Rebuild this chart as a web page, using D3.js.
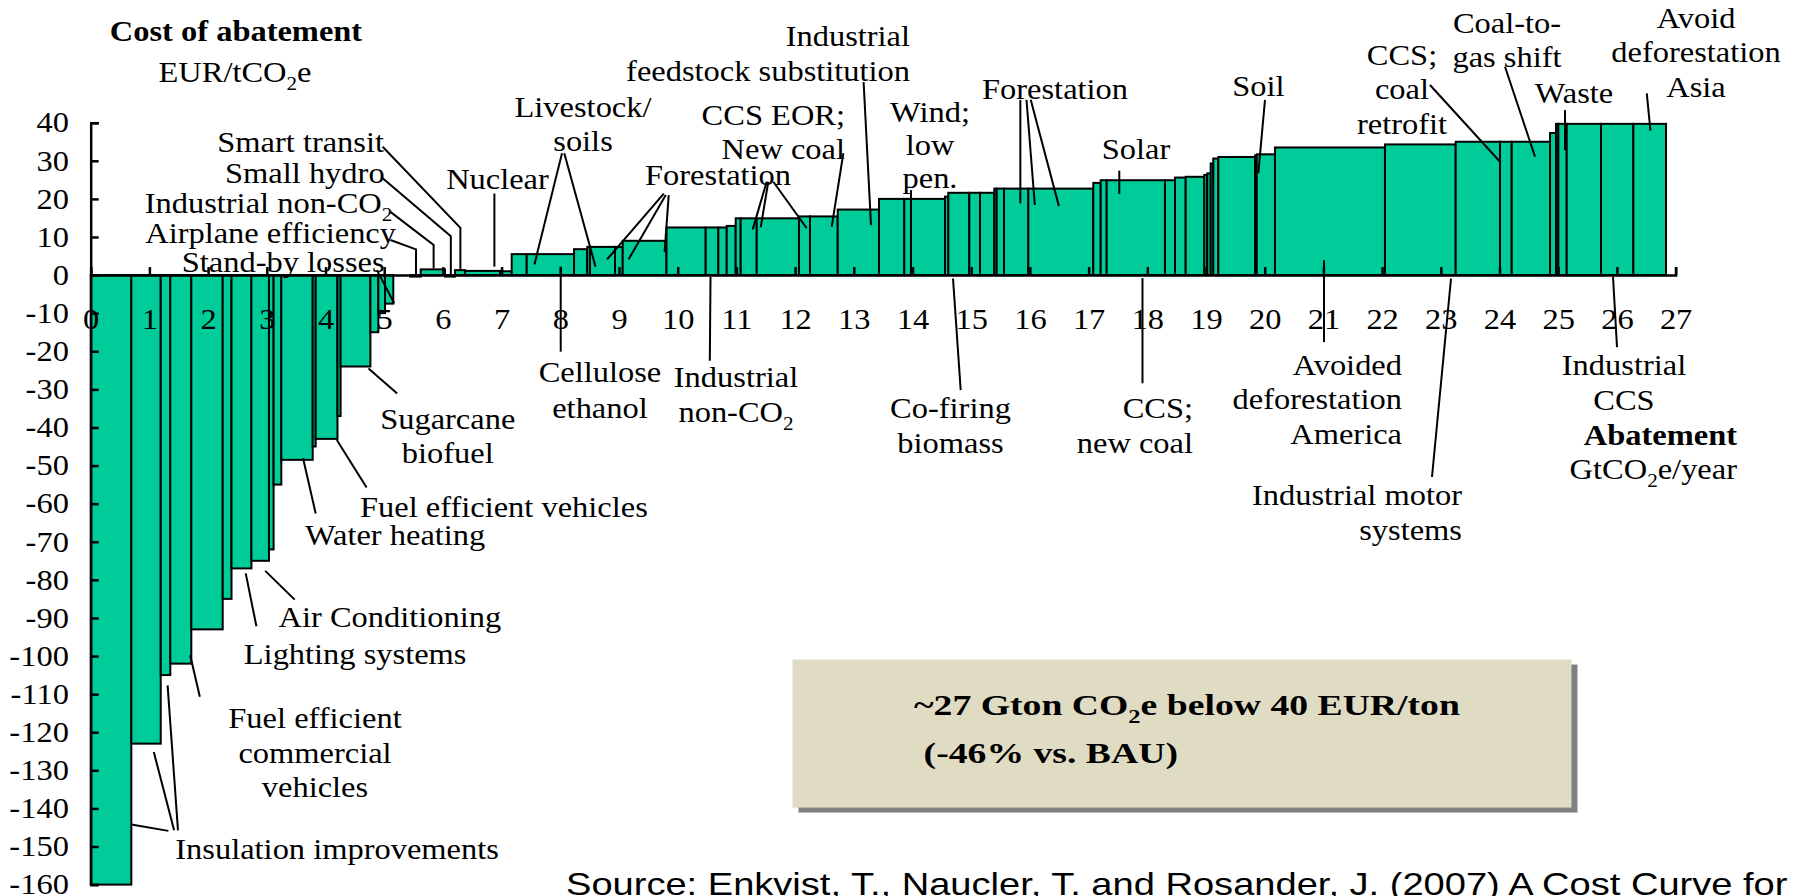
<!DOCTYPE html>
<html>
<head>
<meta charset="utf-8">
<style>
  body { margin: 0; background: #fff; }
  svg text { font-family: "Liberation Serif", "Times New Roman", serif; fill: #000; }
  .bar { fill: #00cc99; stroke: #000; stroke-width: 2px; }
  .lead { fill: none; stroke: #000; stroke-width: 2px; }
  .axis path, .axis line { stroke: #000; stroke-width: 2.5px; }
  .axis text { font-size: 29px; }
  .source { font-family: "Liberation Sans", Arial, sans-serif; }
</style>
</head>
<body>
<svg width="1796" height="896"></svg>
<script src="https://cdn.jsdelivr.net/npm/d3@7"></script>
<script>

// abatement of each lever, GtCO2e/year, in curve order (left to right)
var abatement = [0.692, 0.501, 0.163, 0.358, 0.535, 0.150, 0.339, 0.299, 0.079, 0.131,
                 0.535, 0.051, 0.371, 0.053, 0.508, 0.135, 0.114, 0.141, 0.285, 0.182,
                 0.414, 0.170, 0.170, 0.597, 0.199, 0.256, 0.806, 0.226, 0.046, 0.426,
                 0.131, 0.746, 0.668, 0.215, 0.143, 0.153, 0.085, 0.273, 0.720, 0.188,
                 0.472, 0.703, 0.431, 0.114, 0.580, 0.056, 0.358, 0.182, 0.244, 0.040,
                 0.125, 0.414, 1.107, 0.126, 0.102, 0.993, 0.171, 0.182, 0.317, 0.051,
                 0.058, 0.044, 0.086, 0.625, 0.029, 0.311, 1.874, 1.205, 0.755, 0.199,
                 0.653, 0.102, 0.039, 0.143, 0.584, 0.551, 0.557];

// cost of abatement of each lever, EUR/tCO2e
var cost = [-160, -123, -105, -102, -93, -85, -77, -75, -72, -55,
            -48.5, -45, -43, -37, -24, -15, -10, -7.5, 0, -0.4,
            1.5, -0.4, 1.3, 1.1, 1.0, 5.5, 5.5, 6.8, 7.4, 7.4,
            7.4, 9.0, 12.5, 12.5, 12.5, 12.9, 14.9, 14.9, 14.9, 15.4,
            15.4, 17.2, 20.0, 20.0, 20.0, 20.6, 21.6, 21.6, 21.6, 22.7,
            22.7, 22.7, 22.7, 24.2, 24.9, 24.9, 24.9, 25.6, 25.8, 26.3,
            26.7, 29.3, 30.6, 31.0, 31.4, 31.7, 33.5, 34.3, 35.0, 35.0,
            35.0, 37.3, 39.7, 39.7, 39.7, 39.7, 39.7];

var xTicks = d3.range(0, 28);
var yTicks = d3.range(-160, 41, 10);

// lever names, placed in data units (x: GtCO2e, y: EUR), with leader lines
var notes = [
  {text: ["Cost of abatement"], x: 2.475, y: 61.5, bold: true},
  {text: ["EUR/tCO₂e"], x: 2.458, y: 50.8},
  {text: ["Smart transit"], x: 4.997, y: 32.4, anchor: "end", lead: [[[4.974, 33.7], [6.298, 12.4], [6.298, 1.3]]]},
  {text: ["Small hydro"], x: 5.007, y: 24.2, anchor: "end", lead: [[[4.974, 25.4], [6.135, 10.2], [6.135, 0]]]},
  {text: ["Industrial non-CO₂"], x: 5.138, y: 16.4, anchor: "end", lead: [[[5.106, 16.6], [5.842, 7.9], [5.842, 1.8]]]},
  {text: ["Airplane efficiency"], x: 5.201, y: 8.5, anchor: "end", lead: [[[5.106, 9.2], [5.542, 6.75], [5.542, 0]]]},
  {text: ["Stand-by losses"], x: 5.007, y: 0.9, anchor: "end", lead: [[[4.877, 1.3], [5.170, -7.4]]]},
  {text: ["Nuclear"], x: 6.930, y: 22.5, lead: [[[6.877, 21.4], [6.877, 2.2]]]},
  {text: ["Livestock/", "soils"], x: 8.387, y: 41.6,
   lead: [[[8.029, 32.0], [7.559, 2.8]], [[8.068, 32.0], [8.600, 2.2]]]},
  {text: ["Forestation"], x: 10.687, y: 23.6,
   lead: [[[9.763, 21.4], [8.796, 4.1]], [[9.797, 21.0], [9.162, 4.1]], [[9.847, 21.0], [9.777, 6.1]],
          [[11.516, 24.5], [11.278, 12.0]], [[11.543, 24.5], [11.414, 12.5]], [[11.629, 24.5], [12.198, 12.3]]]},
  {text: ["CCS EOR;", "New coal"], x: 12.85, y: 39.4, anchor: "end", lead: [[[12.822, 32.0], [12.624, 12.7]]]},
  {text: ["Industrial", "feedstock substitution"], x: 13.958, y: 60.1, anchor: "end", lead: [[[13.167, 50.7], [13.293, 13.1]]]},
  {text: ["Wind;", "low", "pen."], x: 14.298, y: 40.3, lh: 33, lead: [[[13.974, 22.3], [13.974, 1.8]]]},
  {text: ["Forestation"], x: 16.428, y: 46.1,
   lead: [[[15.837, 46.0], [15.837, 18.8]], [[15.942, 46.0], [16.084, 18.4]], [[16.014, 46.0], [16.494, 18.1]]]},
  {text: ["Solar"], x: 17.808, y: 30.6, lead: [[[17.523, 27.4], [17.523, 21.3]]]},
  {text: ["Soil"], x: 19.894, y: 47.0, lead: [[[20.005, 46.0], [19.891, 26.7]]]},
  {text: ["CCS;", "coal", "retrofit"], x: 22.339, y: 55.15, lead: [[[22.816, 49.9], [24.009, 29.75]]]},
  {text: ["Coal-to-", "gas shift"], x: 24.128, y: 63.5, lh: 33.4, lead: [[[24.094, 54.7], [24.605, 31.1]]]},
  {text: ["Waste"], x: 25.269, y: 45.1, lead: [[[25.116, 43.3], [25.116, 32.8]]]},
  {text: ["Avoid", "deforestation", "Asia"], x: 27.348, y: 64.8, lh: 34.2, lead: [[[26.509, 47.7], [26.571, 37.9]]]},
  {text: ["Cellulose", "ethanol"], x: 8.676, y: -28.0, lh: 36.6, lead: [[[8.007, 2.2], [8.007, -20.1]]]},
  {text: ["Industrial", "non-CO₂"], x: 10.993, y: -29.5, lead: [[[10.559, -0.5], [10.547, -22.5]]]},
  {text: ["Co-firing", "biomass"], x: 14.647, y: -37.6, lead: [[[14.690, -0.9], [14.821, -30.2]]]},
  {text: ["CCS;", "new coal"], x: 18.779, y: -37.6, anchor: "end", lead: [[[17.918, -0.8], [17.918, -28.4]]]},
  {text: ["Avoided", "deforestation", "America"], x: 22.339, y: -26.3, anchor: "end", lh: 34.2, lead: [[[21.010, 3.9], [21.010, -17.6]]]},
  {text: ["Industrial motor", "systems"], x: 23.361, y: -60.4, anchor: "end", lead: [[[23.174, -0.9], [22.850, -53.0]]]},
  {text: ["Industrial", "CCS"], x: 26.121, y: -26.3, lead: [[[25.934, -0.5], [26.002, -18.9]]]},
  {text: ["Abatement"], x: 28.046, y: -44.6, anchor: "end", bold: true},
  {text: ["GtCO₂e/year"], x: 28.046, y: -53.4, anchor: "end"},
  {text: ["Sugarcane", "biofuel"], x: 6.082, y: -40.5, lh: 33.4, lead: [[[4.733, -24.5], [5.221, -31.1]]]},
  {text: ["Fuel efficient vehicles"], x: 4.588, y: -63.5, anchor: "start", lead: [[[4.193, -43.3], [4.700, -55.75]]]},
  {text: ["Water heating"], x: 3.651, y: -70.9, anchor: "start", lead: [[[3.618, -48.1], [3.833, -62.6]]]},
  {text: ["Air Conditioning"], x: 3.201, y: -92.4, anchor: "start", lead: [[[2.973, -77.65], [3.475, -85.2]]]},
  {text: ["Lighting systems"], x: 2.608, y: -102.0, anchor: "start", lead: [[[2.641, -78.3], [2.823, -92.2]]]},
  {text: ["Fuel efficient", "commercial", "vehicles"], x: 3.821, y: -119.0, lh: 34.2, lead: [[[1.695, -99.8], [1.859, -110.7]]]},
  {text: ["Insulation improvements"], x: 1.441, y: -153.2, anchor: "start",
   lead: [[[1.324, -145.9], [0.692, -144.2]], [[1.421, -145.75], [1.075, -125.2]], [[1.487, -145.75], [1.310, -107.7]]]}
];

var boxText = ["~27 Gton CO₂e below 40 EUR/ton", "(-46% vs. BAU)"];
var sourceText = "Source: Enkvist, T., Naucler, T. and Rosander, J. (2007) A Cost Curve for";

var svg = d3.select("svg");
var x = d3.scaleLinear().domain([0, 27]).range([90.7, 1675.6]),
    y = d3.scaleLinear().domain([-160, 40]).range([884.6, 122.7]);

var FS = 29, SX = 1.12, LH = 34.5;

// writes a string into a text/tspan, turning "₂" into a lowered small 2
function withSub(sel, str, size) {
  var parts = str.split("₂");
  parts.forEach(function(p, i) {
    if (p) sel.append("tspan").attr("dy", i > 0 ? -0.28 * size : null).text(p);
    if (i < parts.length - 1) {
      sel.append("tspan").attr("font-size", size * 0.65).attr("dy", 0.28 * size).text("2");
    }
  });
}

// bars
var start = 0;
var levers = abatement.map(function(w, i) {
  var d = {x0: start, x1: start + w, cost: cost[i]};
  start += w;
  return d;
});

svg.append("g").selectAll("rect")
  .data(levers)
  .enter().append("rect")
    .attr("class", "bar")
    .attr("x", function(d) { return x(d.x0); })
    .attr("width", function(d) { return x(d.x1) - x(d.x0); })
    .attr("y", function(d) { return y(Math.max(0, d.cost)); })
    .attr("height", function(d) { return Math.abs(y(d.cost) - y(0)); });

// axes
var gx = svg.append("g")
  .attr("class", "axis")
  .attr("transform", "translate(0," + y(0) + ")")
  .call(d3.axisBottom(x).tickValues(xTicks).tickSizeInner(-8).tickSizeOuter(-8)
    .tickPadding(33).tickFormat(function(d) { return String(d); }));
gx.attr("font-family", null).attr("font-size", null);
gx.selectAll("text").attr("transform", "scale(" + SX + ",1)");

var gy = svg.append("g")
  .attr("class", "axis")
  .attr("transform", "translate(" + x(0) + ",0)")
  .call(d3.axisLeft(y).tickValues(yTicks).tickSizeInner(-8).tickSizeOuter(-8)
    .tickPadding(19.5).tickFormat(function(d) { return String(d); }));
gy.attr("font-family", null).attr("font-size", null);
gy.selectAll("text").attr("transform", "scale(" + SX + ",1)");

// leader lines
var line = d3.line()
  .x(function(p) { return x(p[0]); })
  .y(function(p) { return y(p[1]); });

var leads = [];
notes.forEach(function(n) { (n.lead || []).forEach(function(l) { leads.push(l); }); });

svg.append("g").selectAll("path")
  .data(leads)
  .enter().append("path")
    .attr("class", "lead")
    .attr("d", line);

// labels
notes.forEach(function(n) {
  var g = svg.append("g")
    .attr("transform", "translate(" + x(n.x) + "," + y(n.y) + ") scale(" + SX + ",1)");
  var t = g.append("text")
    .attr("text-anchor", n.anchor || "middle")
    .attr("font-size", FS)
    .attr("font-weight", n.bold ? "bold" : null);
  n.text.forEach(function(s, i) {
    var ts = t.append("tspan").attr("x", 0).attr("y", i * (n.lh || LH));
    withSub(ts, s, FS);
  });
});

// summary box
var bx0 = x(11.956), bx1 = x(25.226), by0 = y(-100.92), by1 = y(-139.78);
svg.append("rect")
  .attr("x", bx0 + 6).attr("y", by0 + 5)
  .attr("width", bx1 - bx0).attr("height", by1 - by0)
  .attr("fill", "#808080");
svg.append("rect")
  .attr("x", bx0).attr("y", by0)
  .attr("width", bx1 - bx0).attr("height", by1 - by0)
  .attr("fill", "#e0dcc4");

boxText.forEach(function(s, i) {
  var g = svg.append("g")
    .attr("transform", "translate(" + x(i ? 14.189 : 14.025) + "," + y(i ? -128.15 : -115.55) + ") scale(1.3,1)");
  var t = g.append("text").attr("font-size", 29).attr("font-weight", "bold");
  withSub(t, s, 29);
});

// source line, running off the right and bottom edges as in the original
svg.append("g")
  .attr("transform", "translate(566,895) scale(1.19,1)")
  .append("text")
    .attr("class", "source")
    .attr("font-size", 32)
    .text(sourceText);

</script>
</body>
</html>
